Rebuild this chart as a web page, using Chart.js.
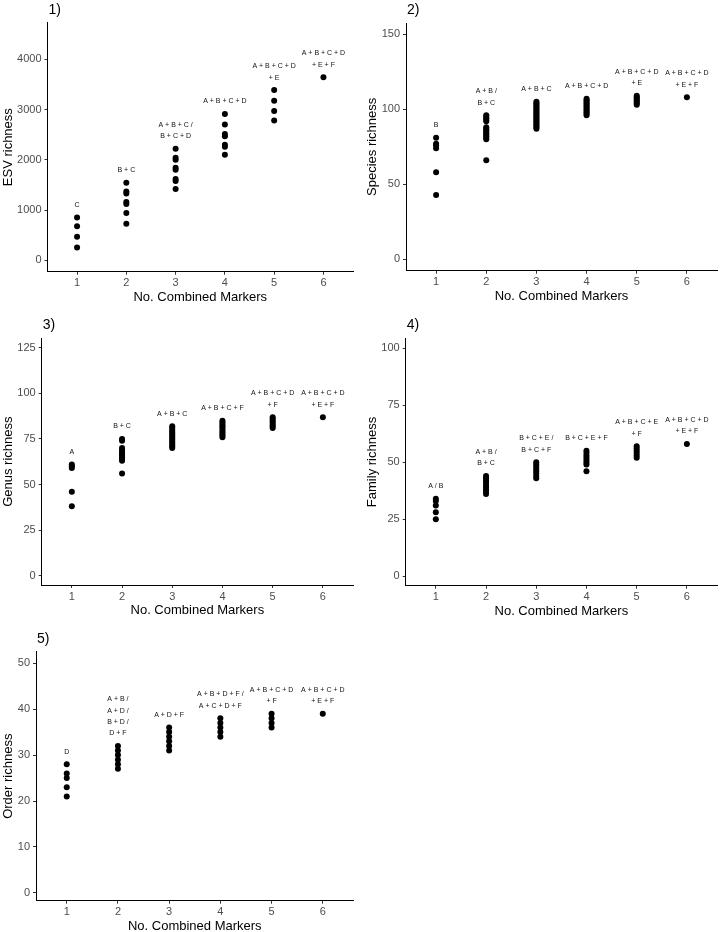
<!DOCTYPE html>
<html><head><meta charset="utf-8">
<script src="https://cdn.jsdelivr.net/npm/chart.js@4.4.1/dist/chart.umd.min.js"></script>
<style>
html,body{margin:0;padding:0;background:#fff;width:720px;height:932px;overflow:hidden;position:relative}
canvas{position:absolute}
</style></head><body>
<canvas id="c1"></canvas><canvas id="c2"></canvas><canvas id="c3"></canvas><canvas id="c4"></canvas><canvas id="c5"></canvas>
<script>
// ---- data ----
const xTicks = [1, 2, 3, 4, 5, 6];

const esvValues = [
  [850, 680, 470, 255],
  [1545, 1370, 1330, 1160, 1120, 940, 730],
  [2220, 2040, 2000, 1840, 1800, 1620, 1580, 1420],
  [2910, 2700, 2510, 2470, 2300, 2260, 2100],
  [3385, 3175, 2970, 2780],
  [3640]
];
const speciesValues = [
  [81, 77, 76, 74, 58, 43],
  [96, 95, 94, 93, 92, 88, 87, 86, 85, 84, 83, 82, 81, 80, 66],
  [105, 104, 103, 102, 101, 100, 99, 98, 97, 96, 95, 94, 93, 92, 91, 90, 89, 88, 87],
  [107, 106, 105, 104, 103, 102, 101, 100, 99, 98, 97, 96],
  [109, 108, 107, 106, 105, 104, 103],
  [108]
];
const genusValues = [
  [61, 60, 59, 46, 38],
  [75, 74, 70, 69, 68, 67, 66, 65, 64, 63, 56],
  [82, 81, 80, 79, 78, 77, 76, 75, 74, 73, 72, 71, 70],
  [85, 84, 83, 82, 81, 80, 79, 78, 77, 76],
  [87, 86, 85, 84, 83, 82, 81],
  [87]
];
const familyValues = [
  [34, 33, 31, 28, 25],
  [44, 43, 42, 41, 40, 39, 38, 37, 36],
  [50, 49, 48, 47, 46, 45, 44, 43],
  [55, 54, 53, 52, 51, 50, 49, 46],
  [57, 56, 55, 54, 53, 52],
  [58]
];
const orderValues = [
  [28, 26, 25, 23, 21],
  [32, 31, 30, 29, 28, 27],
  [36, 35, 34, 33, 32, 31],
  [38, 37, 36, 35, 34],
  [39, 38, 37, 36],
  [39]
];

const esvLabels = [["C"], ["B + C"], ["A + B + C /", "B + C + D"], ["A + B + C + D"], ["A + B + C + D", "+ E"], ["A + B + C + D", "+ E + F"]];
const speciesLabels = [["B"], ["A + B /", "B + C"], ["A + B + C"], ["A + B + C + D"], ["A + B + C + D", "+ E"], ["A + B + C + D", "+ E + F"]];
const genusLabels = [["A"], ["B + C"], ["A + B + C"], ["A + B + C + F"], ["A + B + C + D", "+ F"], ["A + B + C + D", "+ E + F"]];
const familyLabels = [["A / B"], ["A + B /", "B + C"], ["B + C + E /", "B + C + F"], ["B + C + E + F"], ["A + B + C + E", "+ F"], ["A + B + C + D", "+ E + F"]];
const orderLabels = [["D"], ["A + B /", "A + D /", "B + D /", "D + F"], ["A + D + F"], ["A + B + D + F /", "A + C + D + F"], ["A + B + C + D", "+ F"], ["A + B + C + D", "+ E + F"]];

const esvTicks = [0, 1000, 2000, 3000, 4000];
const speciesTicks = [0, 50, 100, 150];
const genusTicks = [0, 25, 50, 75, 100, 125];
const familyTicks = [0, 25, 50, 75, 100];
const orderTicks = [0, 10, 20, 30, 40, 50];

const panelTags = ["1)", "2)", "3)", "4)", "5)"];
const yTitles = ["ESV richness", "Species richness", "Genus richness", "Family richness", "Order richness"];
const xTitle = "No. Combined Markers";

// ---- layout (page pixels) ----
const FONT = "'Liberation Sans', Arial, Helvetica, sans-serif";
const panels = [
  {id:'c1', left:0,   top:0,   w:360, h:305, L:47.5,  T:22.7,  R:353,   B:271.7, yMin:-225, yMax:4725, values:esvValues,     labels:esvLabels,     ticks:esvTicks},
  {id:'c2', left:364, top:0,   w:356, h:304, L:406,   T:23,    R:718,   B:270.7, yMin:-7.5, yMax:157.5, values:speciesValues, labels:speciesLabels, ticks:speciesTicks},
  {id:'c3', left:0,   top:305, w:360, h:313, L:41.7,  T:338.3, R:353,   B:585,   yMin:-5.2, yMax:130.3, values:genusValues,   labels:genusLabels,   ticks:genusTicks},
  {id:'c4', left:364, top:305, w:356, h:314, L:405.7, T:338.3, R:718,   B:585.7, yMin:-4.2, yMax:104.4, values:familyValues,  labels:familyLabels,  ticks:familyTicks},
  {id:'c5', left:0,   top:618, w:360, h:316, L:36,    T:651.7, R:353.5, B:900.7, yMin:-1.7, yMax:52.5, values:orderValues,   labels:orderLabels,   ticks:orderTicks}
];

const annotPlugin = {
  id: 'annot',
  afterDatasetsDraw(chart, args, opts) {
    const {ctx, scales:{x, y}, chartArea} = chart;
    const p = opts.panel;
    ctx.save();
    ctx.fillStyle = '#111';
    ctx.font = '7px ' + FONT;
    ctx.textAlign = 'center';
    ctx.textBaseline = 'middle';
    p.labels.forEach((lines, i) => {
      const maxV = Math.max(...p.values[i]);
      const px = x.getPixelForValue(xTicks[i]);
      const py = y.getPixelForValue(maxV) - 12.5;
      for (let k = lines.length - 1; k >= 0; k--) {
        ctx.fillText(lines[k], px, py - (lines.length - 1 - k) * 11.3);
      }
    });
    ctx.fillStyle = '#000';
    ctx.font = '14px ' + FONT;
    ctx.textAlign = 'left';
    ctx.fillText(opts.tag, chartArea.left + 1, chartArea.top - 13);
    ctx.restore();
  }
};

panels.forEach((p, idx) => {
  const cv = document.getElementById(p.id);
  cv.width = p.w; cv.height = p.h;
  cv.style.left = p.left + 'px'; cv.style.top = p.top + 'px';
  cv.style.width = p.w + 'px'; cv.style.height = p.h + 'px';
  const data = p.values.flatMap((g, i) => g.map(v => ({x: xTicks[i], y: v})));
  new Chart(cv, {
    type: 'scatter',
    data: {datasets: [{data, backgroundColor:'#000', borderWidth:0, pointRadius:3, pointHoverRadius:3}]},
    options: {
      responsive:false, animation:false, events:[],
      layout:{padding:{top:p.T - p.top, right:p.left + p.w - p.R, left:0, bottom:0}},
      plugins:{legend:{display:false}, tooltip:{enabled:false}, annot:{panel:p, tag:panelTags[idx]}},
      scales:{
        x:{
          type:'linear', min:0.4, max:6.6,
          afterBuildTicks:s => { s.ticks = xTicks.map(v => ({value:v})); },
          afterFit:s => { s.height = p.h - (p.B - p.top); },
          grid:{drawOnChartArea:false, drawTicks:true, tickLength:3, color:'#333', tickColor:'#333'},
          border:{display:true, color:'#000', width:1},
          ticks:{color:'#4d4d4d', font:{size:11, family:FONT}, padding:2, maxRotation:0, autoSkip:false, callback:v => String(v)},
          title:{display:true, text:xTitle, color:'#000', font:{size:13, family:FONT}, padding:{top:0, bottom:0}}
        },
        y:{
          type:'linear', min:p.yMin, max:p.yMax,
          afterBuildTicks:s => { s.ticks = p.ticks.map(v => ({value:v})); },
          afterFit:s => { s.width = p.L - p.left; },
          grid:{drawOnChartArea:false, drawTicks:true, tickLength:3, color:'#333', tickColor:'#333'},
          border:{display:true, color:'#000', width:1},
          ticks:{color:'#4d4d4d', font:{size:11, family:FONT}, padding:3, autoSkip:false, callback:v => String(v)},
          title:{display:true, text:yTitles[idx], color:'#000', font:{size:13, family:FONT}, padding:{top:1, bottom:0}}
        }
      }
    },
    plugins:[annotPlugin]
  });
});
</script>
</body></html>
